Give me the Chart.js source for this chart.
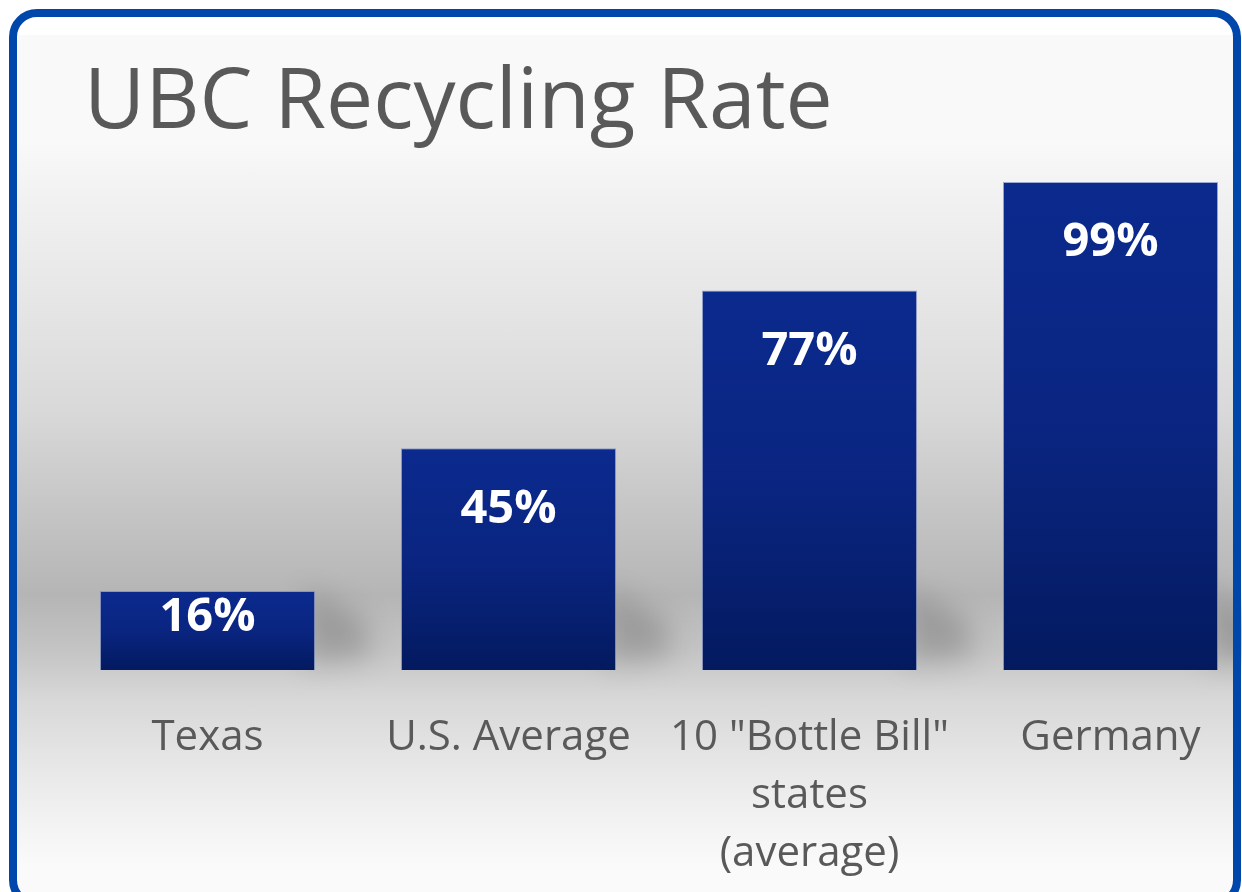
<!DOCTYPE html>
<html>
<head>
<meta charset="utf-8">
<script src="https://cdn.jsdelivr.net/npm/chart.js@4.4.1/dist/chart.umd.min.js"></script>
<style>
  html, body { margin: 0; padding: 0; background: #fff; overflow: hidden; width: 1242px; height: 892px; }
  #bg {
    position: absolute; left: 17px; top: 35px; width: 1216px; height: 857px;
    background: linear-gradient(to bottom,
      #f9f9f9 0px, #f9f9f9 105px, #f1f1f1 165px, #e6e6e6 265px, #d9d9d9 375px,
      #cccccc 440px, #b5b5b5 560px, #c4c4c4 615px, #d8d8d8 665px, #e8e8e8 735px,
      #f3f3f3 790px, #fafafa 830px);
  }
  #chart { position: absolute; left: 0; top: 0; }
  #title {
    position: absolute; left: 84px; top: 54px; margin: 0;
    font: 84px/1 "Open Sans", sans-serif; color: #595959; white-space: nowrap;
  }
  #frame {
    position: absolute; left: 9px; top: 9px; width: 1216px; height: 883px;
    border: 8px solid #0047ab; border-radius: 28px; pointer-events: none;
  }
</style>
</head>
<body>
<div id="bg"></div>
<canvas id="chart" width="1264" height="892"></canvas>
<div id="title">UBC Recycling Rate</div>
<div id="frame"></div>
<script>
const categories = ['Texas', 'U.S. Average', ['10 "Bottle Bill"', 'states', '(average)'], 'Germany'];
const rates = [16, 45, 77, 99];
const rateLabels = ['16%', '45%', '77%', '99%'];

function barFill(context) {
    const chart = context.chart;
    if (!chart.chartArea || !chart.scales.y) return '#0a2785';
    const y = chart.scales.y;
    const top = y.getPixelForValue(context.raw);
    const bottom = y.getPixelForValue(0);
    const g = chart.ctx.createLinearGradient(0, top, 0, bottom);
    g.addColorStop(0, '#0b2a8e');
    g.addColorStop(0.5, '#0a2581');
    g.addColorStop(1, '#031a5f');
    return g;
}

// soft shadow to the right of each bar
const barShadow = {
    id: 'barShadow',
    beforeDatasetsDraw(chart) {
        const ctx = chart.ctx;
        chart.getDatasetMeta(0).data.forEach(bar => {
            const right = bar.x + bar.width / 2;
            const base = bar.base;
            ctx.save();
            ctx.filter = 'blur(14px)';
            ctx.fillStyle = 'rgba(0,0,0,0.18)';
            ctx.beginPath();
            ctx.moveTo(right - 10, base - 80);
            ctx.lineTo(right + 50, base - 50);
            ctx.lineTo(right + 55, base - 12);
            ctx.lineTo(right - 10, base - 5);
            ctx.closePath();
            ctx.fill();
            ctx.restore();
        });
    }
};

const valueLabels = {
    id: 'valueLabels',
    afterDatasetsDraw(chart) {
        const ctx = chart.ctx;
        ctx.save();
        ctx.font = 'bold 47px "Open Sans", sans-serif';
        ctx.fillStyle = '#ffffff';
        ctx.textAlign = 'center';
        ctx.textBaseline = 'middle';
        chart.getDatasetMeta(0).data.forEach((bar, i) => {
            const h = bar.base - bar.y;
            ctx.fillText(rateLabels[i], bar.x, bar.y + Math.min(61, h / 2 - 13));
        });
        ctx.restore();
    }
};

new Chart(document.getElementById('chart'), {
    type: 'bar',
    data: {
        labels: categories,
        datasets: [{
            data: rates,
            backgroundColor: barFill,
            borderColor: 'rgba(120,140,195,0.7)',
            borderWidth: 1,
            barPercentage: 0.715,
            categoryPercentage: 1
        }]
    },
    options: {
        responsive: false,
        devicePixelRatio: 1,
        animation: false,
        layout: { padding: { left: 57, right: 3, top: 177, bottom: 0 } },
        plugins: {
            legend: { display: false },
            tooltip: { enabled: false }
        },
        scales: {
            y: { display: false, min: 0, max: 100 },
            x: {
                grid: { display: false },
                border: { display: false },
                ticks: {
                    color: '#595959',
                    font: { family: 'Open Sans', size: 42, lineHeight: 1.38 },
                    padding: 31,
                    maxRotation: 0,
                    autoSkip: false
                },
                afterFit(scale) { scale.height = 222; }
            }
        }
    },
    plugins: [barShadow, valueLabels]
});
</script>
</body>
</html>
